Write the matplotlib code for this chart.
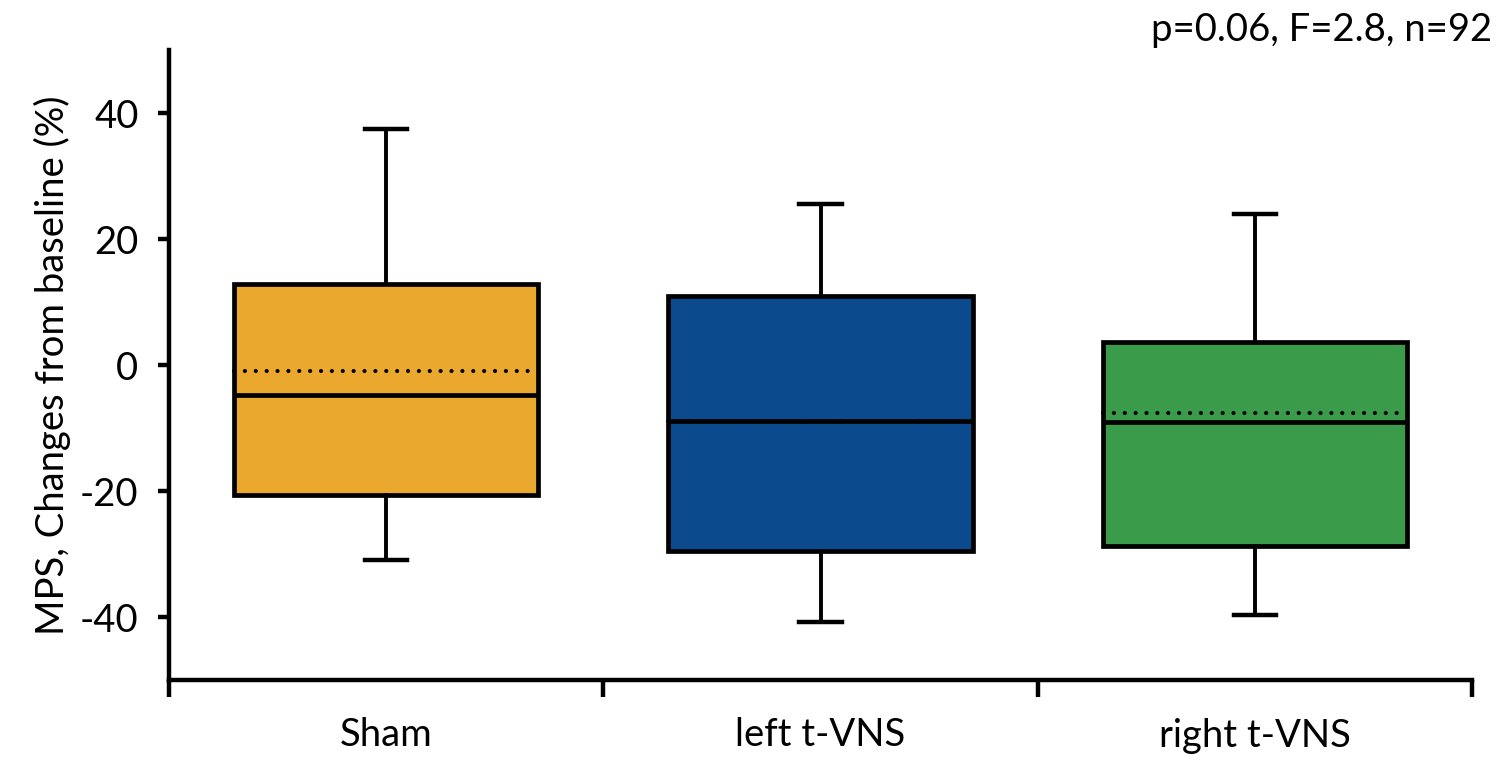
import matplotlib.pyplot as plt
from matplotlib.ticker import FixedLocator

plt.rcParams['font.family'] = ['Lato', 'DejaVu Sans']

groups = ['Sham', 'left t-VNS', 'right t-VNS']
whis_hi = [37.4, 25.5, 23.9]
q3 = [12.8, 11.0, 3.7]
medians = [-4.8, -8.9, -9.0]
means = [-0.9, -8.9, -7.6]
q1 = [-20.6, -29.5, -28.7]
whis_lo = [-30.9, -40.8, -39.7]
colors = ['#EBA82F', '#0B4A8D', '#3A9B4B']
stats_text = 'p=0.06, F=2.8, n=92'

stats = []
for i, g in enumerate(groups):
    stats.append(dict(label=g, med=medians[i], q1=q1[i], q3=q3[i],
                      whislo=whis_lo[i], whishi=whis_hi[i],
                      mean=means[i], fliers=[]))

fig = plt.figure(figsize=(15.07, 7.58), dpi=100)
ax = fig.add_axes([169 / 1507, 1 - 680 / 758, (1472 - 169) / 1507, (680 - 50) / 758])

lw = 3.4
fs = 27.5
bp = ax.bxp(stats, positions=[1, 2, 3], widths=0.70, patch_artist=True,
            showmeans=True, meanline=True, showfliers=False,
            boxprops=dict(linewidth=lw, edgecolor='black'),
            whiskerprops=dict(linewidth=2.8, color='black'),
            capprops=dict(linewidth=3.2, color='black'),
            medianprops=dict(linewidth=lw, color='black', zorder=4),
            meanprops=dict(linewidth=3.0, color='black',
                           linestyle=(0, (0.01, 2.6)), zorder=3.5),
            capwidths=0.097)
for patch, c in zip(bp['boxes'], colors):
    patch.set_facecolor(c)
for line in bp['means']:
    line.set_dash_capstyle('round')

ax.set_xlim(0.5, 3.5)
ax.set_ylim(-50, 50)
ax.set_yticks([-40, -20, 0, 20, 40])
ax.set_yticklabels(['-40', '-20', '0', '20', '40'])

ax.xaxis.set_major_locator(FixedLocator([0.5, 1.5, 2.5, 3.5]))
ax.set_xticklabels([])
ax.xaxis.set_minor_locator(FixedLocator([1, 2, 3]))
ax.set_xticklabels(groups, minor=True)
ax.tick_params(axis='x', which='major', direction='out', length=12, width=3.2)
ax.tick_params(axis='x', which='minor', length=0, pad=27, labelsize=fs)
ax.tick_params(axis='y', direction='out', length=8, width=3.2, pad=14, labelsize=fs)

for s in ['top', 'right']:
    ax.spines[s].set_visible(False)
for s in ['left', 'bottom']:
    ax.spines[s].set_linewidth(3.2)

ax.set_ylabel('MPS, Changes from baseline (%)', fontsize=fs, labelpad=6)
fig.text(1492 / 1507, 1 - 30 / 758, stats_text, ha='right', va='center', fontsize=fs)

fig.savefig('out.png', dpi=100)
